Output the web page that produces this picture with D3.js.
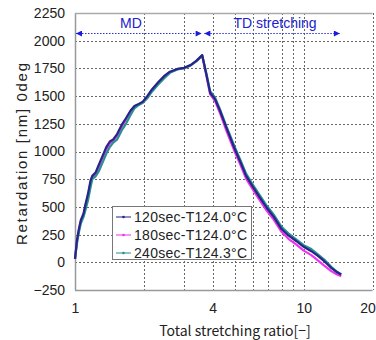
<!DOCTYPE html>
<html><head><meta charset="utf-8">
<script src="https://cdn.jsdelivr.net/npm/d3@7"></script>
<style>
html,body{margin:0;padding:0;background:#fff;}
svg{display:block;}
</style></head>
<body>
<svg id="chart" width="376" height="340"></svg>
<script>
// ---- data ----
const seriesNames = ["120sec-T124.0\u00B0C", "180sec-T124.0\u00B0C", "240sec-T124.3\u00B0C"];
const seriesColors = ["#26268a", "#ee33ee", "#2a9090"];
const xTicks = [1, 4, 10, 20];
const xGrid = [2, 3, 4, 5, 6, 7, 8, 9, 10, 20];
const yTicks = [-250, 0, 250, 500, 750, 1000, 1250, 1500, 1750, 2000, 2250];

const ratio120 = [1.0,1.02,1.04,1.06,1.09,1.11,1.14,1.17,1.19,1.23,1.27,1.32,1.37,1.42,1.47,1.53,1.6,1.67,1.75,1.82,1.9,1.98,2.07,2.17,2.3,2.45,2.6,2.8,3.0,3.2,3.4,3.6,3.75,3.9,4.1,4.3,4.6,5.0,5.3,5.6,6.0,6.4,6.9,7.4,8.0,8.6,9.3,10.0,10.8,11.5,12.3,13.2,14.0,14.6];
const ret120 =   [30,200,300,380,440,520,620,740,780,810,880,960,1040,1090,1110,1160,1240,1300,1370,1410,1430,1450,1500,1560,1620,1680,1720,1745,1755,1780,1820,1870,1700,1530,1470,1370,1210,1020,900,780,680,590,490,410,300,240,190,140,100,60,10,-50,-90,-110];

const ratio180 = [1.0,1.02,1.04,1.06,1.09,1.11,1.14,1.17,1.19,1.23,1.27,1.32,1.37,1.42,1.47,1.53,1.6,1.67,1.75,1.82,1.9,1.98,2.07,2.17,2.3,2.45,2.6,2.8,3.0,3.2,3.4,3.6,3.75,3.9,4.1,4.3,4.6,5.0,5.3,5.6,6.0,6.4,6.9,7.4,8.0,8.6,9.3,10.0,10.8,11.5,12.3,13.2,14.0,14.6];
const ret180 =   [30,190,290,370,430,505,600,720,770,800,860,940,1020,1070,1095,1145,1225,1290,1360,1405,1425,1445,1495,1555,1615,1675,1715,1742,1752,1778,1818,1865,1690,1515,1455,1350,1185,995,875,755,655,565,465,385,275,210,160,105,65,20,-30,-80,-110,-125];

const ratio240 = [1.0,1.02,1.04,1.06,1.09,1.11,1.14,1.17,1.19,1.23,1.27,1.32,1.37,1.42,1.47,1.53,1.6,1.67,1.75,1.82,1.9,1.98,2.07,2.17,2.3,2.45,2.6,2.8,3.0,3.2,3.4,3.6,3.75,3.9,4.1,4.3,4.6,5.0,5.3,5.6,6.0,6.4,6.9,7.4,8.0,8.6,9.3,10.0,10.8,11.5,12.3,13.2,14.0,14.6];
const ret240 =   [30,170,270,350,410,470,560,680,750,775,820,900,980,1040,1080,1110,1190,1250,1330,1390,1420,1440,1480,1540,1600,1660,1710,1740,1752,1775,1815,1865,1710,1545,1485,1385,1225,1040,920,800,700,610,510,430,320,260,205,155,120,75,25,-40,-85,-110];

// ---- layout ----
const svg = d3.select("#chart");
const x = d3.scaleLog().domain([1, 20]).range([75, 372.5]);
const y = d3.scaleLinear().domain([-250, 2250]).range([290, 13]);
const pLeft = 75, pRight = 372.5, pTop = 13, pBottom = 290;
const numFont = "'Liberation Sans', Arial, sans-serif";
const jpFont = "'Noto Sans CJK JP', sans-serif";

// gridlines
const g = svg.append("g");
g.selectAll("line.hg").data(yTicks.filter(d => d > -250 && d < 2250)).join("line")
  .attr("x1", pLeft).attr("x2", pRight).attr("y1", d => Math.round(y(d)) + 0.5).attr("y2", d => Math.round(y(d)) + 0.5)
  .attr("stroke", "#666").attr("stroke-width", 1).attr("stroke-dasharray", "2,2");
g.selectAll("line.vg").data(xGrid).join("line")
  .attr("x1", d => Math.round(x(d)) + 0.5).attr("x2", d => Math.round(x(d)) + 0.5).attr("y1", pTop).attr("y2", pBottom)
  .attr("stroke", "#666").attr("stroke-width", 1).attr("stroke-dasharray", "2,2");

// frame
g.append("line").attr("x1", pLeft + 0.5).attr("x2", pLeft + 0.5).attr("y1", pTop).attr("y2", pBottom).attr("stroke", "#999").attr("stroke-width", 1.5);
g.append("line").attr("x1", pLeft).attr("x2", pRight).attr("y1", pTop + 0.5).attr("y2", pTop + 0.5).attr("stroke", "#aaa").attr("stroke-width", 1.5);
g.append("line").attr("x1", pLeft).attr("x2", pRight).attr("y1", pBottom + 0.5).attr("y2", pBottom + 0.5).attr("stroke", "#999").attr("stroke-width", 1.5);

// axes labels via d3 axes
const yAxis = svg.append("g").attr("transform", `translate(${pLeft - 8},0)`)
  .call(d3.axisLeft(y).tickValues(yTicks).tickSize(0).tickPadding(2).tickFormat(d => d < 0 ? "\u2212" + Math.abs(d) : d));
yAxis.select(".domain").remove();
yAxis.selectAll("text").attr("font-family", numFont).attr("font-size", 14).attr("fill", "#222");

const xAxis = svg.append("g").attr("transform", `translate(0,${pBottom + 13})`)
  .call(d3.axisBottom(x).tickValues(xTicks).tickSize(0).tickPadding(0).tickFormat(d3.format("d")));
xAxis.select(".domain").remove();
xAxis.selectAll("text").attr("font-family", numFont).attr("font-size", 14).attr("fill", "#222")
  .attr("dx", d => d === 20 ? -5 : 0);

// titles
svg.append("text").attr("x", 235).attr("y", 336).attr("text-anchor", "middle")
  .attr("font-family", jpFont).attr("font-size", 14).attr("fill", "#222").text("Total stretching ratio[\u2212]");
svg.append("text").attr("transform", "translate(27,154) rotate(-90)").attr("text-anchor", "middle")
  .attr("font-family", numFont).attr("font-size", 15).attr("fill", "#222")
  .attr("textLength", 182).attr("lengthAdjust", "spacing").text("Retardation [nm] 0deg");

// arrows
const defs = svg.append("defs");
defs.append("marker").attr("id", "ah").attr("viewBox", "0 0 10 10").attr("refX", 10).attr("refY", 5)
  .attr("markerWidth", 7).attr("markerHeight", 6).attr("markerUnits", "userSpaceOnUse").attr("orient", "auto-start-reverse")
  .append("path").attr("d", "M0,0 L10,5 L0,10 Z").attr("fill", "#1a1ae0");
const arrowY = 33.5;
const arrows = [[1, 3.58], [3.64, 14.4]];
svg.selectAll("line.arr").data(arrows).join("line")
  .attr("x1", d => x(d[0]) + 1).attr("x2", d => x(d[1])).attr("y1", arrowY).attr("y2", arrowY)
  .attr("stroke", "#3030e0").attr("stroke-width", 1).attr("stroke-dasharray", "1.5,1.5")
  .attr("marker-start", "url(#ah)").attr("marker-end", "url(#ah)");
svg.append("text").attr("x", 131).attr("y", 28).attr("text-anchor", "middle")
  .attr("font-family", numFont).attr("font-size", 14).attr("fill", "#2222cc").text("MD");
svg.append("text").attr("x", 275).attr("y", 28).attr("text-anchor", "middle")
  .attr("font-family", numFont).attr("font-size", 14).attr("fill", "#2222cc").text("TD stretching");

// series
const series = [
  {name: seriesNames[0], color: seriesColors[0], xs: ratio120, ys: ret120},
  {name: seriesNames[1], color: seriesColors[1], xs: ratio180, ys: ret180},
  {name: seriesNames[2], color: seriesColors[2], xs: ratio240, ys: ret240}
];
const line = d3.line().x(d => x(d[0])).y(d => y(d[1]));
const drawOrder = [1, 2, 0];
drawOrder.forEach(i => {
  const s = series[i];
  svg.append("path").datum(s.xs.map((v, k) => [v, s.ys[k]]))
    .attr("d", line).attr("fill", "none").attr("stroke", s.color).attr("stroke-width", 2.2)
    .attr("stroke-linejoin", "round");
});

// legend
const lg = svg.append("g");
lg.append("rect").attr("x", 112.5).attr("y", 206.5).attr("width", 139).attr("height", 53)
  .attr("fill", "#fff").attr("stroke", "#777").attr("stroke-width", 1);
series.forEach((s, i) => {
  const yy = 217 + i * 18;
  lg.append("line").attr("x1", 116).attr("x2", 131).attr("y1", yy).attr("y2", yy)
    .attr("stroke", s.color).attr("stroke-width", 1.2).attr("opacity", 0.85);
  lg.append("circle").attr("cx", 123.5).attr("cy", yy).attr("r", 1.3).attr("fill", s.color);
  lg.append("text").attr("x", 134).attr("y", yy + 5).attr("font-family", numFont).attr("font-size", 14)
    .attr("textLength", 113).attr("lengthAdjust", "spacing")
    .attr("fill", "#222").text(s.name);
});
</script>
</body></html>
